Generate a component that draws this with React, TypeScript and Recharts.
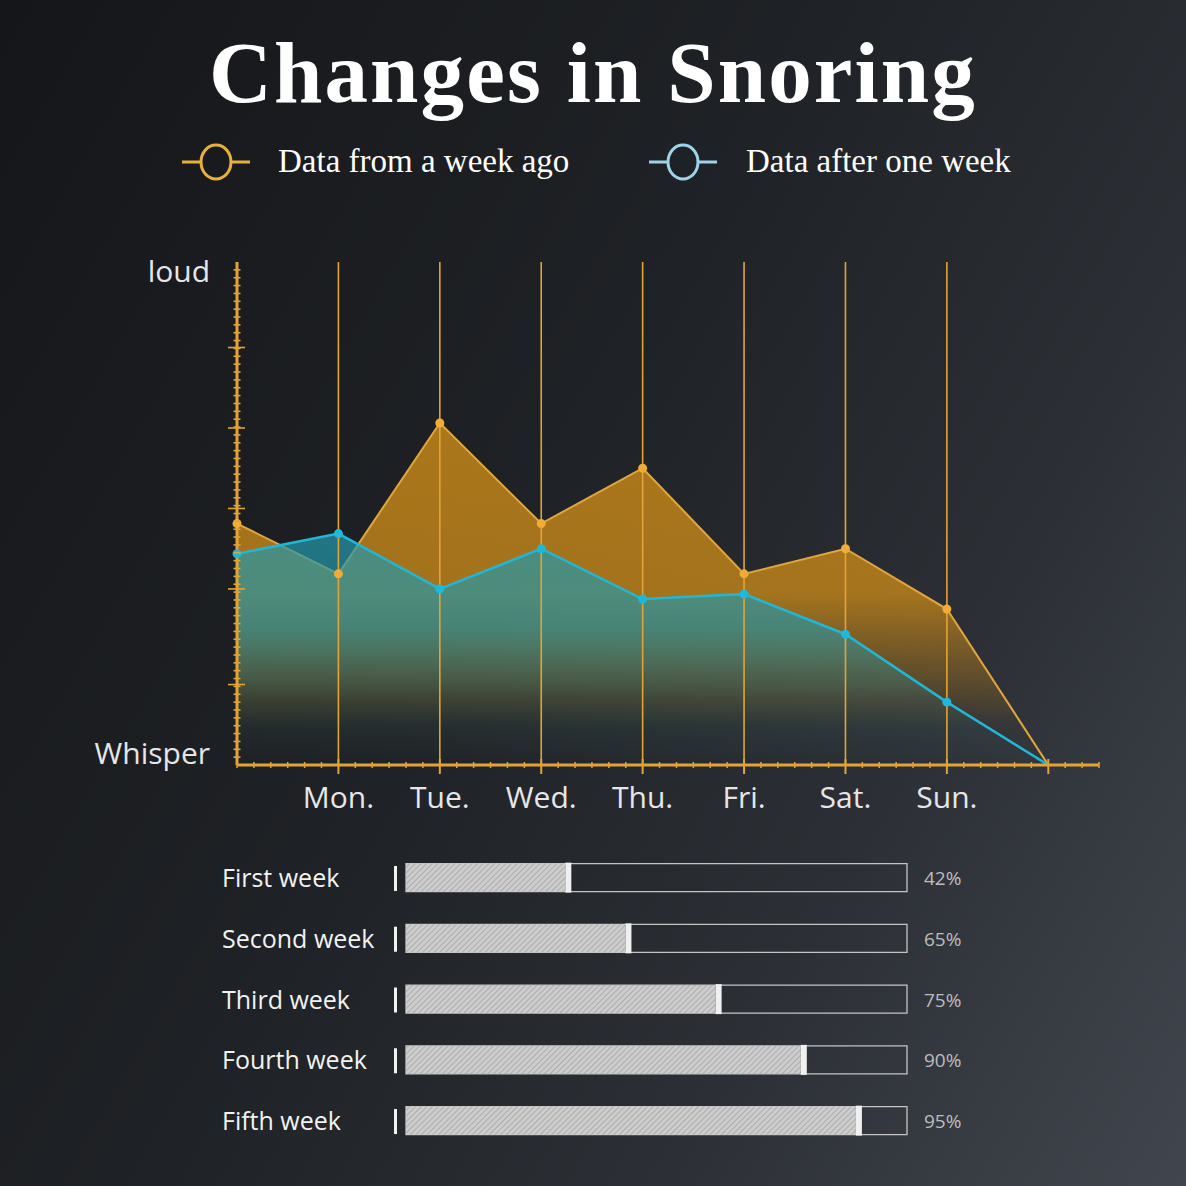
import React from 'react';
import {
  AreaChart, Area, XAxis, YAxis, ReferenceLine, BarChart, Bar,
} from 'recharts';

// weekday positions 0..8 (0 = axis origin, 8 = end point)
const dayLabels = ['', 'Mon.', 'Tue.', 'Wed.', 'Thu.', 'Fri.', 'Sat.', 'Sun.', ''];
const weekAgo = [48, 38, 68, 48, 59, 38, 43, 31, 0];
const afterWeek = [42, 46, 35, 43, 33, 34, 26, 12.5, 0];

// y axis: 0 = whisper, 100 = loud
const yMajorTicks = [16, 35, 51, 67, 83];

const weekNames = ['First week', 'Second week', 'Third week', 'Fourth week', 'Fifth week'];
const fillLevels = [33, 45, 63, 80, 91];
const percentLabels = ['42%', '65%', '75%', '90%', '95%'];

const ORANGE = '#e3a436';
const BLUE = '#22b6d6';
const FONT = '"Open Sans", "Noto Sans", sans-serif';

const snoreData = dayLabels.map((d, i) => ({
  x: i,
  day: d,
  weekAgo: weekAgo[i],
  afterWeek: afterWeek[i],
}));

const weekData = weekNames.map((n, i) => ({
  name: n,
  level: fillLevels[i],
  pct: percentLabels[i],
}));

const xTicks = Array.from({ length: 52 }, (_, i) => i / 6);
const yTicks = Array.from({ length: 65 }, (_, i) => (i * 100) / 64);

const XTick = (props: any) => {
  const { x, y, payload } = props;
  const v = payload.value;
  const idx = Math.round(v);
  const major = Math.abs(v - idx) < 0.01 && idx > 0;
  if (!major) {
    return <line x1={x} x2={x} y1={y - 3} y2={y + 3} stroke={ORANGE} strokeWidth={1.5} />;
  }
  return (
    <g>
      <line x1={x} x2={x} y1={y - 6} y2={y + 9} stroke={ORANGE} strokeWidth={2} />
      <text x={x} y={y + 43} textAnchor="middle" fill="#e6e6e6" fontSize={30} fontFamily={FONT}>
        {dayLabels[idx]}
      </text>
    </g>
  );
};

const YTick = (props: any) => {
  const { x, y, payload } = props;
  const v = payload.value;
  if (v === 100) {
    return (
      <text x={x - 27} y={y + 20} textAnchor="end" fill="#e6e6e6" fontSize={30} fontFamily={FONT}>
        loud
      </text>
    );
  }
  if (v === 0) {
    return (
      <text x={x - 27} y={y - 1} textAnchor="end" fill="#e6e6e6" fontSize={30} fontFamily={FONT}>
        Whisper
      </text>
    );
  }
  if (yMajorTicks.includes(v)) {
    return <line x1={x - 9} x2={x + 8} y1={y} y2={y} stroke={ORANGE} strokeWidth={1.6} />;
  }
  return <line x1={x - 3.5} x2={x + 3.5} y1={y} y2={y} stroke={ORANGE} strokeWidth={1.6} />;
};

const makeDot = (color: string) => (props: any) => {
  const { cx, cy, index } = props;
  if (index === dayLabels.length - 1) return <g key={`d${index}`} />;
  return <circle key={`d${index}`} cx={cx} cy={cy} r={4.5} fill={color} />;
};

const WeekTick = (props: any) => {
  const { x, y, payload } = props;
  return (
    <g>
      <rect x={x - 12} y={y - 12} width={3} height={25} fill="#f2f2f2" />
      <text x={x - 184} y={y + 9} fill="#f2f2f2" fontSize={25} fontFamily={FONT}>
        {payload.value}
      </text>
    </g>
  );
};

const PctTick = (props: any) => {
  const { x, y, payload } = props;
  return (
    <text x={x + 17} y={y + 7} fill="#bdbdbd" fontSize={19} fontFamily={FONT}>
      {payload.value}
    </text>
  );
};

const HatchBar = (props: any) => {
  const { x, y, width, height } = props;
  if (!width || width <= 0) return <g />;
  return (
    <g>
      <rect x={x} y={y} width={width - 6} height={height} fill="url(#hatch)" />
      <rect x={x + width - 6} y={y - 1} width={6} height={height + 2} fill="#f0f0f0" />
    </g>
  );
};

const LegendIcon = ({ color }: { color: string }) => (
  <svg width={70} height={40} style={{ display: 'block' }}>
    <line x1={1} x2={19} y1={20} y2={20} stroke={color} strokeWidth={3} />
    <line x1={51} x2={69} y1={20} y2={20} stroke={color} strokeWidth={3} />
    <ellipse cx={35} cy={20} rx={15} ry={17} fill="none" stroke={color} strokeWidth={3} />
  </svg>
);

export default function App() {
  return (
    <div
      style={{
        position: 'absolute',
        left: 0,
        top: 0,
        width: 1186,
        height: 1186,
        overflow: 'hidden',
        background: 'linear-gradient(120deg, #151619 0%, #1f2226 45%, #2c3036 72%, #41454d 100%)',
      }}
    >
      <div
        style={{
          position: 'absolute',
          top: 29,
          left: 0,
          width: 1186,
          textAlign: 'center',
          fontFamily: '"Liberation Serif", "DejaVu Serif", serif',
          fontWeight: 'bold',
          fontSize: 87,
          lineHeight: 1,
          letterSpacing: 2.1,
          color: '#ffffff',
        }}
      >
        Changes in Snoring
      </div>

      {/* legend */}
      <div style={{ position: 'absolute', top: 142, left: 181 }}>
        <LegendIcon color="#e8b03e" />
      </div>
      <div
        style={{
          position: 'absolute', top: 145, left: 278, fontFamily: '"Liberation Serif", serif',
          fontSize: 33, lineHeight: 1, color: '#ffffff',
        }}
      >
        Data from a week ago
      </div>
      <div style={{ position: 'absolute', top: 142, left: 648 }}>
        <LegendIcon color="#9fd3ea" />
      </div>
      <div
        style={{
          position: 'absolute', top: 145, left: 746, fontFamily: '"Liberation Serif", serif',
          fontSize: 33, lineHeight: 1, color: '#ffffff',
        }}
      >
        Data after one week
      </div>

      <div style={{ position: 'absolute', left: 0, top: 0 }}>
        <AreaChart
          width={1186}
          height={830}
          data={snoreData}
          margin={{ top: 262, right: 87, bottom: 5, left: 137 }}
        >
          <defs>
            <linearGradient id="orangeFill" x1="0" y1="0" x2="0" y2="1">
              <stop offset="0%" stopColor="#c48619" stopOpacity={0.85} />
              <stop offset="50%" stopColor="#c48619" stopOpacity={0.8} />
              <stop offset="76%" stopColor="#c48619" stopOpacity={0.3} />
              <stop offset="89%" stopColor="#c48619" stopOpacity={0.03} />
              <stop offset="100%" stopColor="#c48619" stopOpacity={0} />
            </linearGradient>
            <linearGradient id="blueFill" x1="0" y1="0" x2="0" y2="1">
              <stop offset="0%" stopColor="#2498aa" stopOpacity={0.72} />
              <stop offset="40%" stopColor="#2498aa" stopOpacity={0.64} />
              <stop offset="72%" stopColor="#2498aa" stopOpacity={0.12} />
              <stop offset="100%" stopColor="#2498aa" stopOpacity={0} />
            </linearGradient>
          </defs>
          <XAxis
            type="number"
            dataKey="x"
            domain={[0, 8.5]}
            ticks={xTicks}
            interval={0}
            height={60}
            tickSize={0}
            tickMargin={0}
            tickLine={false}
            axisLine={{ stroke: ORANGE, strokeWidth: 3 }}
            tick={XTick}
          />
          <YAxis
            type="number"
            domain={[0, 100]}
            ticks={yTicks.concat(yMajorTicks)}
            interval={0}
            width={100}
            tickSize={0}
            tickMargin={0}
            tickLine={false}
            axisLine={{ stroke: ORANGE, strokeWidth: 3 }}
            tick={YTick}
          />
          {dayLabels.slice(1, 8).map((d, i) => (
            <ReferenceLine key={d} x={i + 1} stroke={ORANGE} strokeWidth={1.6} />
          ))}
          <Area
            type="linear"
            dataKey="weekAgo"
            stroke="#e2a63c"
            strokeWidth={2}
            fill="url(#orangeFill)"
            fillOpacity={1}
            dot={makeDot('#f0ac36')}
            activeDot={false}
            isAnimationActive={false}
          />
          <Area
            type="linear"
            dataKey="afterWeek"
            stroke={BLUE}
            strokeWidth={2.5}
            fill="url(#blueFill)"
            fillOpacity={1}
            dot={makeDot('#20b8da')}
            activeDot={false}
            isAnimationActive={false}
          />
        </AreaChart>
      </div>

      <div style={{ position: 'absolute', left: 0, top: 820 }}>
        <BarChart
          width={1186}
          height={350}
          layout="vertical"
          data={weekData}
          margin={{ top: 27.6, right: 0, bottom: 18.6, left: 0 }}
        >
          <defs>
            <pattern id="hatch" patternUnits="userSpaceOnUse" width={4} height={4} patternTransform="rotate(45)">
              <rect width={4} height={4} fill="#cdcdcd" />
              <line x1={0} y1={0} x2={0} y2={4} stroke="#9c9c9c" strokeWidth={1.4} />
            </pattern>
          </defs>
          <XAxis type="number" domain={[0, 100]} hide />
          <YAxis
            yAxisId="left"
            type="category"
            dataKey="name"
            width={406}
            tickSize={0}
            tickMargin={0}
            tickLine={false}
            axisLine={false}
            interval={0}
            tick={WeekTick}
          />
          <YAxis
            yAxisId="right"
            orientation="right"
            type="category"
            dataKey="pct"
            width={279}
            tickSize={0}
            tickMargin={0}
            tickLine={false}
            axisLine={false}
            interval={0}
            tick={PctTick}
          />
          <Bar
            yAxisId="left"
            dataKey="level"
            barSize={28}
            background={{ fill: 'transparent', stroke: '#c4c4c4', strokeWidth: 1.3 }}
            shape={HatchBar}
            isAnimationActive={false}
          />
        </BarChart>
      </div>
    </div>
  );
}
